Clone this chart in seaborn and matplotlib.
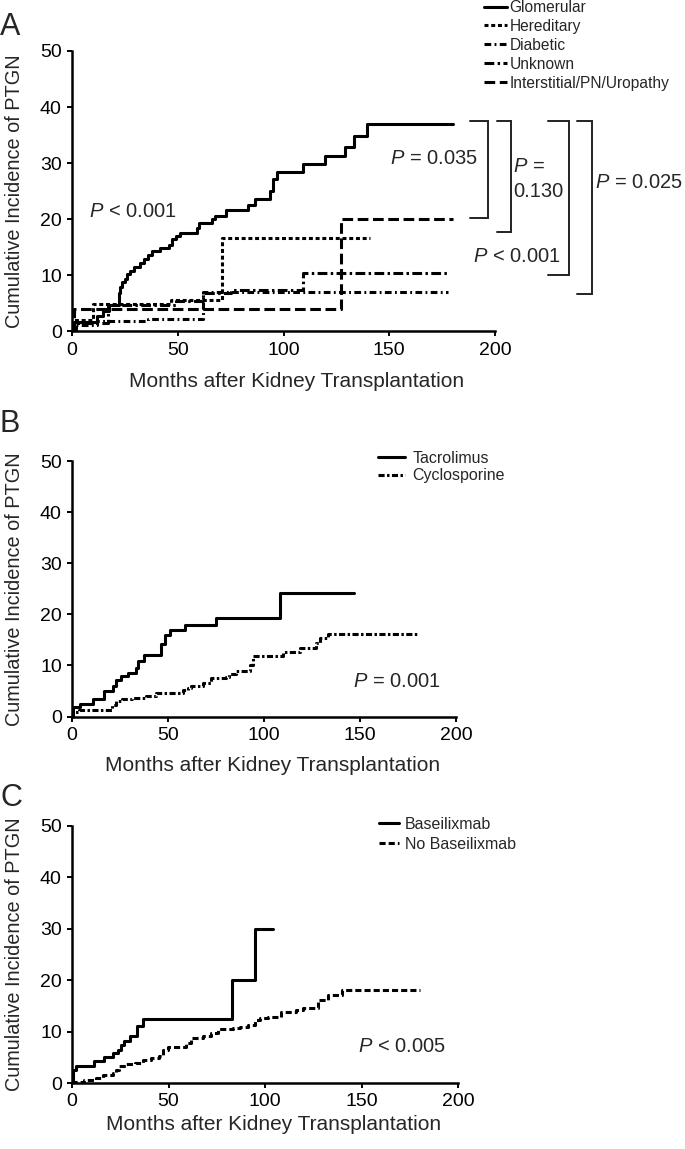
import numpy as np
import pandas as pd
import matplotlib
matplotlib.use("Agg")
import matplotlib.pyplot as plt
import seaborn as sns

# ---------------- data ----------------
# Panel A (cause of ESRD)
GLOM_T = [0, 1, 12, 14.5, 17.5, 22, 22.5, 23.5, 25, 26, 27.5, 29.5, 32, 34, 36, 38, 41.5, 46, 47.5, 49,
          51, 59, 60, 66, 67.5, 73, 83, 86.5, 93.5, 95, 97, 109, 119.5, 129, 133.5, 139.5, 180]
GLOM_V = [0, 1.7, 2.7, 3.6, 4.8, 6.8, 8.0, 8.9, 9.4, 10.3, 10.8, 11.5, 12.2, 13.0, 13.6, 14.3, 14.9, 15.5, 16.4, 17.0,
          17.6, 18.5, 19.3, 20.1, 20.6, 21.6, 22.6, 23.7, 25.0, 27.2, 28.5, 29.9, 31.2, 32.9, 34.9, 37.0, 37.0]
HERED_T = [0, 1, 10, 47, 71, 141]
HERED_V = [0, 2.0, 4.9, 5.7, 16.7, 16.7]
DIAB_T = [0, 1, 12, 36, 62, 178]
DIAB_V = [0, 1.2, 1.8, 2.2, 7.0, 7.0]
UNK_T = [0, 2, 17, 49, 62, 75, 109, 178]
UNK_V = [0, 1.5, 4.8, 5.4, 6.8, 7.4, 10.4, 10.4]
INTER_T = [0, 0.8, 127, 180]
INTER_V = [0, 4.0, 20.0, 20.0]
A_LABELS = ["Glomerular", "Hereditary", "Diabetic", "Unknown", "Interstitial/PN/Uropathy"]

# Panel B (calcineurin inhibitor)
TAC_T = [0, 0.5, 4, 10.8, 16.9, 21.2, 23, 25.6, 29, 33.4, 34.2, 37.7, 46.4, 48.2, 50.8, 58.6, 75.1, 108.5, 147]
TAC_V = [0, 1.95, 2.5, 3.4, 4.9, 5.9, 7.2, 8.0, 8.5, 9.5, 10.8, 12.1, 14.1, 16.0, 17.0, 18.0, 19.3, 24.1, 24.1]
CYC_T = [0, 0.5, 3.8, 21, 23, 26, 31, 38.6, 43.8, 58, 60.3, 62, 68.2, 72.5, 80.3, 82, 85.5, 92.5, 94.2, 108.2,
         110, 118.6, 127.3, 129, 133.4, 180]
CYC_V = [0, 0.9, 1.3, 2.3, 3.0, 3.4, 3.7, 4.1, 4.6, 5.2, 5.6, 6.0, 6.6, 7.5, 7.8, 8.3, 9.0, 10.1, 11.8, 11.9,
         12.6, 13.4, 14.4, 15.4, 16.1, 16.1]
B_LABELS = ["Tacrolimus", "Cyclosporine"]

# Panel C (induction)
BAS_T = [0, 0.5, 2.1, 11.6, 16.8, 21.1, 23.7, 25.4, 27.2, 29.8, 33.6, 36.7, 82.9, 95, 104.2]
BAS_V = [0, 2.5, 3.3, 4.4, 5.1, 5.9, 6.5, 7.4, 8.3, 9.1, 11.2, 12.5, 20.0, 30.0, 30.0]
NOBAS_T = [0, 0.5, 6.4, 12.4, 15.9, 21.1, 22.8, 24.6, 28, 32.4, 36.7, 41, 45.3, 47.1, 49.7, 59.2, 61.8, 68, 72.2,
           75.7, 83.4, 86.9, 91.2, 94.7, 97.3, 101.6, 108.5, 116.3, 119.8, 127.6, 132.8, 139.7, 180.4]
NOBAS_V = [0, 0.3, 0.7, 1.0, 1.5, 2.0, 2.6, 3.4, 3.8, 4.0, 4.5, 4.9, 5.3, 6.4, 7.1, 7.8, 8.8, 9.2, 9.7,
           10.5, 10.7, 11.0, 11.3, 12.2, 12.6, 12.8, 13.9, 14.2, 14.6, 16.2, 17.2, 18.2, 18.2]
C_LABELS = ["Baseilixmab", "No Baseilixmab"]

X_TICKS = [0, 50, 100, 150, 200]
Y_TICKS = [0, 10, 20, 30, 40, 50]
XLABEL = "Months after Kidney Transplantation"
YLABEL = "Cumulative Incidence of PTGN"

# ---------------- style ----------------
sns.set_theme(style="ticks")
plt.rcParams["font.family"] = ["Liberation Sans", "DejaVu Sans"]
plt.rcParams["mathtext.fontset"] = "custom"
plt.rcParams["mathtext.rm"] = "Liberation Sans"
plt.rcParams["mathtext.it"] = "Liberation Sans:italic"

W, H = 685, 1149
fig = plt.figure(figsize=(W / 100, H / 100), dpi=100)


def px_axes(x0, x1, ytop, ybot):
    return fig.add_axes([x0 / W, 1 - ybot / H, (x1 - x0) / W, (ybot - ytop) / H])


axA = px_axes(72, 495, 51, 331.5)
axB = px_axes(72, 456, 461, 716.5)
axC = px_axes(72, 458, 826, 1083.2)

LW = 2.2


def step(ax, t, v, ls, label, lw=LW):
    df = pd.DataFrame({"t": t, "v": v})
    sns.lineplot(data=df, x="t", y="v", ax=ax, drawstyle="steps-post", color="black",
                 linestyle=ls, linewidth=lw, label=label, estimator=None, sort=False)


step(axA, GLOM_T, GLOM_V, "-", A_LABELS[0])
step(axA, HERED_T, HERED_V, (0, (1.3, 0.9)), A_LABELS[1])
step(axA, DIAB_T, DIAB_V, (0, (2.2, 1.1, 0.6, 1.1)), A_LABELS[2])
step(axA, UNK_T, UNK_V, (0, (3.2, 1.1, 0.8, 1.1)), A_LABELS[3])
step(axA, INTER_T, INTER_V, (0, (3.5, 1.5)), A_LABELS[4])

step(axB, TAC_T, TAC_V, "-", B_LABELS[0])
step(axB, CYC_T, CYC_V, (0, (2.0, 0.8, 0.8, 0.8)), B_LABELS[1])

step(axC, BAS_T, BAS_V, "-", C_LABELS[0])
step(axC, NOBAS_T, NOBAS_V, (0, (2.0, 1.0)), C_LABELS[1])

xl_coords = {axA: (0.532, -0.146), axB: (0.521, -0.154), axC: (0.521, -0.124)}
yl_x = {axA: (24 - 72) / 423, axB: (24 - 72) / 384, axC: (24 - 72) / 386}

for ax in (axA, axB, axC):
    ax.set_xlim(0, 200)
    ax.set_ylim(0, 50)
    ax.set_xticks(X_TICKS)
    ax.set_yticks(Y_TICKS)
    ax.set_xlabel(XLABEL, fontsize=15)
    ax.set_ylabel(YLABEL, fontsize=14.3)
    ax.xaxis.set_label_coords(*xl_coords[ax])
    ax.yaxis.set_label_coords(yl_x[ax], 0.5)
    ax.tick_params(axis="both", direction="out", length=3.8, width=1.4, labelsize=14,
                   color="black", labelcolor="black", pad=3.5)
    for s in ("left", "bottom"):
        ax.spines[s].set_linewidth(1.8)
        ax.spines[s].set_color("black")
    sns.despine(ax=ax)
    ax.set_facecolor("none")
    leg = ax.get_legend()
    if leg is not None:
        leg.remove()

# legends
hA, lA = axA.get_legend_handles_labels()
fig.legend(hA, lA, loc="upper left", bbox_to_anchor=(484 / W, 1.0), frameon=False,
           fontsize=11.2, handlelength=1.45, handletextpad=0.2, labelspacing=0.25,
           borderpad=0, borderaxespad=0)
hB, lB = axB.get_legend_handles_labels()
fig.legend(hB, lB, loc="upper left", bbox_to_anchor=(378 / W, 1 - 451 / H), frameon=False,
           fontsize=11.5, handlelength=1.7, handletextpad=0.45, labelspacing=0.15,
           borderpad=0, borderaxespad=0)
hC, lC = axC.get_legend_handles_labels()
fig.legend(hC, lC, loc="upper left", bbox_to_anchor=(379 / W, 1 - 817 / H), frameon=False,
           fontsize=11.5, handlelength=1.25, handletextpad=0.37, labelspacing=0.3,
           borderpad=0, borderaxespad=0)

# brackets and P values in panel A
PFS = 14.5
brackets = [(188.2, 196.9, 37.5, 20.2), (200.9, 207.5, 37.5, 17.7),
            (225.2, 235.2, 37.5, 10.1), (239.0, 245.9, 37.5, 6.7)]
for x0, x1, ytop, ybot in brackets:
    axA.plot([x0, x1, x1, x0], [ytop, ytop, ybot, ybot], color="#222222", lw=1.4,
             clip_on=False, solid_joinstyle="miter")

axA.text(8.2, 21.4, r"$\mathit{P}$ < 0.001", fontsize=PFS, va="center", ha="left")
axA.text(150.3, 30.8, r"$\mathit{P}$ = 0.035", fontsize=PFS, va="center", ha="left")
axA.text(208.4, 29.4, r"$\mathit{P}$ =", fontsize=PFS, va="center", ha="left", clip_on=False)
axA.text(208.4, 25.0, "0.130", fontsize=PFS, va="center", ha="left", clip_on=False)
axA.text(231.2, 13.4, r"$\mathit{P}$ < 0.001", fontsize=PFS, va="center", ha="right", clip_on=False)
axA.text(247.4, 26.5, r"$\mathit{P}$ = 0.025", fontsize=PFS, va="center", ha="left", clip_on=False)

axB.text(146.3, 6.8, r"$\mathit{P}$ = 0.001", fontsize=PFS, va="center", ha="left")
axC.text(148.2, 7.05, r"$\mathit{P}$ < 0.005", fontsize=PFS, va="center", ha="left")

# panel letters
fig.text(0.0, 1 - 35 / H, "A", fontsize=22, ha="left", va="baseline")
fig.text(0.0, 1 - 431.7 / H, "B", fontsize=22, ha="left", va="baseline")
fig.text(0.0, 1 - 806 / H, "C", fontsize=22, ha="left", va="baseline")

fig.savefig("out.png", dpi=100, facecolor="white")
